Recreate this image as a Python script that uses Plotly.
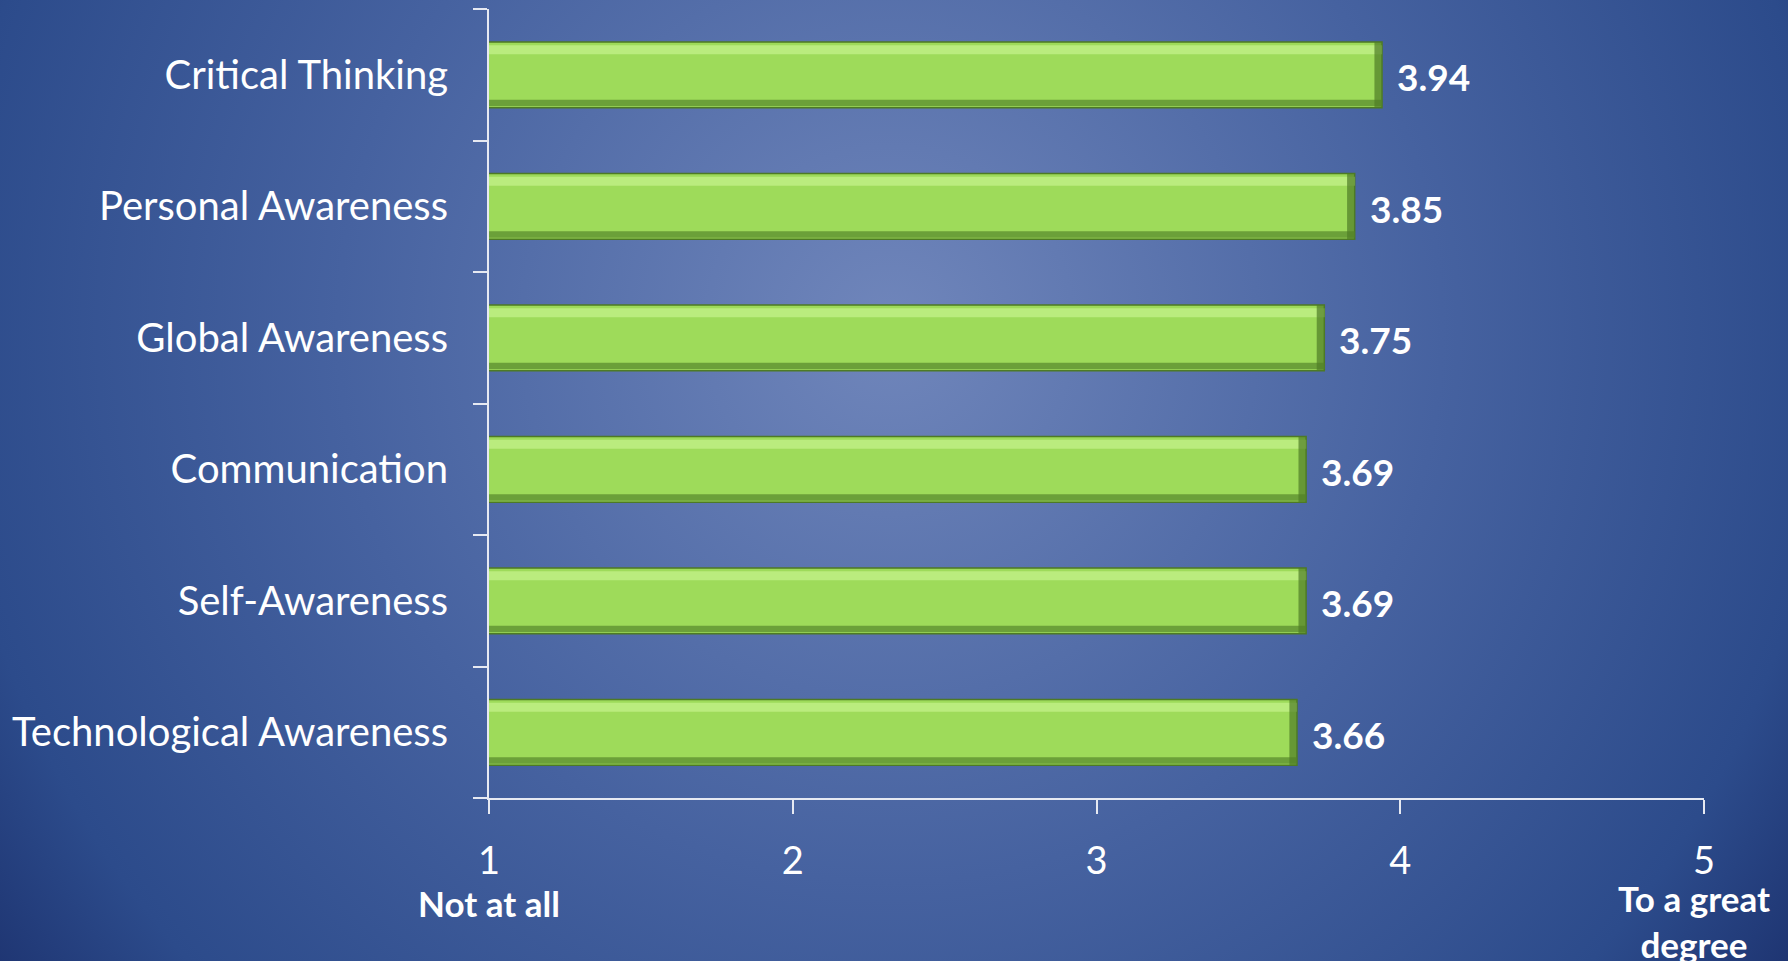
import base64
import plotly.graph_objects as go

# survey results, listed top to bottom as in the chart
skills = ["Critical Thinking", "Personal Awareness", "Global Awareness",
          "Communication", "Self-Awareness", "Technological Awareness"]
scores = [3.94, 3.85, 3.75, 3.69, 3.69, 3.66]
scale_ticks = [1, 2, 3, 4, 5]
scale_low = "Not at all"
scale_high = "To a great<br>degree"

W, H = 1788, 961
L, R, T, B = 489, 84, 9, 163

# plotly draws categories bottom-up, so reverse the lists
cats = skills[::-1]
vals = scores[::-1]

# radial gradient background as an svg image
svg = f"""<svg xmlns='http://www.w3.org/2000/svg' width='{W}' height='{H}'>
<defs><radialGradient id='g' gradientUnits='userSpaceOnUse' cx='890' cy='330' r='1150'>
<stop offset='0' stop-color='#7086bb'/>
<stop offset='0.48' stop-color='#4662a0'/>
<stop offset='0.82' stop-color='#2c4b8b'/>
<stop offset='1' stop-color='#1a2e6a'/>
</radialGradient></defs>
<rect width='{W}' height='{H}' fill='url(#g)'/></svg>"""
bg_uri = "data:image/svg+xml;base64," + base64.b64encode(svg.encode()).decode()

pw, ph = W - L - R, H - T - B

fig = go.Figure()

# main bars
fig.add_trace(go.Bar(y=cats, x=vals, orientation="h", width=0.5, offset=-0.25,
                     marker=dict(color="#9edb5a", line=dict(color="#4d7a25", width=1.5)),
                     hoverinfo="x+y", showlegend=False))
# bevel: light strip near top
fig.add_trace(go.Bar(y=cats, x=vals, orientation="h", width=0.07, offset=0.155,
                     marker=dict(color="#c4f28a", line=dict(width=0)), opacity=0.75,
                     hoverinfo="skip", showlegend=False))
# bevel: dark strip near bottom
fig.add_trace(go.Bar(y=cats, x=vals, orientation="h", width=0.05, offset=-0.24,
                     marker=dict(color="#5f9231", line=dict(width=0)), opacity=0.8,
                     hoverinfo="skip", showlegend=False))
# bevel: dark right end
fig.add_trace(go.Bar(y=cats, x=[0.025] * len(vals), base=[v - 0.025 for v in vals],
                     orientation="h", width=0.5, offset=-0.25,
                     marker=dict(color="#4f7d26", line=dict(width=0)), opacity=0.7,
                     hoverinfo="skip", showlegend=False))

# value labels
for c, v in zip(cats, vals):
    fig.add_annotation(x=v, y=c, text=f"<b>{v:.2f}</b>", showarrow=False,
                       xanchor="left", xshift=13, yshift=-2,
                       font=dict(family="Lato", size=37, color="white"))

# end-of-scale labels
fig.add_annotation(x=scale_ticks[0], y=0, yref="paper", yanchor="top", yshift=-82,
                   text=f"<b>{scale_low}</b>", showarrow=False,
                   font=dict(family="Lato", size=35, color="white"))
fig.add_annotation(x=scale_ticks[-1], y=0, yref="paper", yanchor="top", yshift=-77,
                   xshift=-10, text=f"<b>{scale_high}</b>", showarrow=False,
                   font=dict(family="Lato", size=35, color="white"))

fig.add_layout_image(source=bg_uri, xref="paper", yref="paper",
                     x=-L / pw, y=1 + T / ph, sizex=W / pw, sizey=H / ph,
                     xanchor="left", yanchor="top", sizing="stretch", layer="below")

fig.update_layout(
    width=W, height=H,
    margin=dict(l=L, r=R, t=T, b=B, pad=0),
    paper_bgcolor="#2c4b8b", plot_bgcolor="rgba(0,0,0,0)",
    barmode="overlay", bargap=0.5,
    font=dict(family="Lato", color="white"),
    xaxis=dict(range=[1, 5], tickvals=scale_ticks, showgrid=False, zeroline=False,
               showline=True, linecolor="#e6e9f2", linewidth=2,
               ticks="outside", ticklen=14, tickwidth=2, tickcolor="#e6e9f2",
               tickfont=dict(size=38, color="white"), ticklabelstandoff=14),
    yaxis=dict(categoryorder="array", categoryarray=cats, tickson="boundaries",
               showgrid=False, showline=True, linecolor="#e6e9f2", linewidth=2,
               ticks="outside", ticklen=14, tickwidth=2, tickcolor="#e6e9f2",
               tickfont=dict(size=40, color="white"), ticklabelstandoff=31),
)

# drop the page margin so the chart fills the window
fig.write_html("out.html", config={"displayModeBar": False},
               post_script="document.body.style.margin='0';")
